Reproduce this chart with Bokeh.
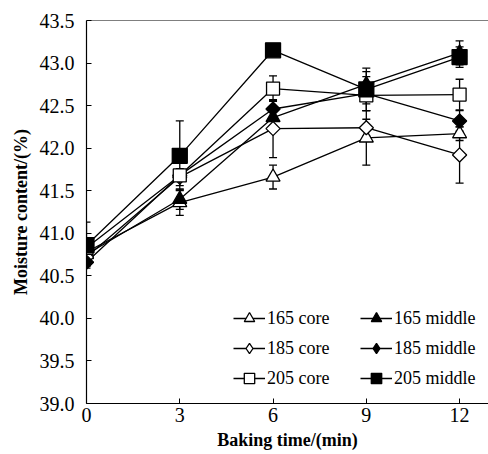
import math
from bokeh.plotting import figure
from bokeh.models import (ColumnDataSource, Whisker, TeeHead, Legend, LegendItem,
                          Span, FixedTicker, Range1d, CustomJSTickFormatter)
from bokeh.embed import file_html
from bokeh.resources import INLINE

times = [0, 3, 6, 9, 12]
series_names = ["165 core", "165 middle", "185 core", "185 middle", "205 core", "205 middle"]
c165 = [40.78, 41.36, 41.66, 42.12, 42.17]
m165 = [40.75, 41.40, 42.36, 42.75, 43.12]
c185 = [40.72, 41.66, 42.23, 42.24, 41.92]
m185 = [40.66, 41.68, 42.46, 42.64, 42.32]
c205 = [40.83, 41.68, 42.70, 42.62, 42.63]
m205 = [40.86, 41.91, 43.15, 42.69, 43.07]
e_c165 = [0.08, 0.15, 0.14, 0.32, 0.08]
e_m165 = [0.08, 0.12, 0.12, 0.15, 0.14]
e_c185 = [0.10, 0.10, 0.34, 0.10, 0.33]
e_m185 = [0.05, 0.05, 0.10, 0.20, 0.12]
e_c205 = [0.10, 0.05, 0.15, 0.10, 0.18]
e_m205 = [0.27, 0.41, 0.05, 0.25, 0.12]
x_ticks = [0, 3, 6, 9, 12]
y_ticks = [39.0, 39.5, 40.0, 40.5, 41.0, 41.5, 42.0, 42.5, 43.0, 43.5]

values = [c165, m165, c185, m185, c205, m205]
errors = [e_c165, e_m165, e_c185, e_m185, e_c205, e_m205]
markers = ["triangle", "triangle", "square", "square", "square", "square"]
legend_markers = ["triangle", "triangle", "diamond", "diamond", "square", "square"]
angles = [0, 0, math.pi / 4, math.pi / 4, 0, 0]
fills = ["white", "black", "white", "black", "white", "black"]
sizes = [14, 14, 10, 10, 13, 15]

FONT = "Liberation Serif"

p = figure(width=488, height=454, output_backend="svg", toolbar_location=None,
           x_range=Range1d(0, 12.93), y_range=Range1d(39.0, 43.5),
           min_border_left=86, min_border_top=20, min_border_bottom=51, min_border_right=0)
p.outline_line_color = None
p.xgrid.visible = False
p.ygrid.visible = False
p.background_fill_color = "white"

for ax in (p.xaxis[0], p.yaxis[0]):
    ax.major_tick_in = 5
    ax.major_tick_out = 0
    ax.minor_tick_line_color = None
    ax.axis_line_color = "black"
    ax.axis_line_width = 1.2
    ax.major_tick_line_color = "black"
    ax.major_label_text_font = FONT
    ax.major_label_text_font_size = "20px"
    ax.major_label_text_color = "black"
    ax.axis_label_text_font = FONT
    ax.axis_label_text_font_style = "bold"
    ax.axis_label_text_color = "black"
    ax.axis_label_text_font_size = "18px"

p.xaxis.ticker = FixedTicker(ticks=x_ticks)
p.yaxis.ticker = FixedTicker(ticks=y_ticks)
p.yaxis.formatter = CustomJSTickFormatter(code="return tick.toFixed(1);")
p.xaxis.major_label_standoff = 4
p.yaxis.major_label_standoff = 12
p.xaxis.axis_label = "Baking time/(min)"
p.yaxis.axis_label = "Moisture content/(%)"
p.xaxis.axis_label_standoff = 5
p.yaxis.axis_label_standoff = 6

p.add_layout(Span(location=43.5, dimension="width", line_color="black", line_width=1.2))

line_rs = []
for vals in values:
    src = ColumnDataSource(dict(x=times, y=vals))
    line_rs.append(p.line("x", "y", source=src, line_color="black", line_width=1.3))

scatter_rs = []
for vals, m, a, f, s in zip(values, markers, angles, fills, sizes):
    src = ColumnDataSource(dict(x=times, y=vals))
    scatter_rs.append(p.scatter("x", "y", source=src, marker=m, angle=a, size=s, fill_color=f,
                                line_color="black", line_width=1.3))

# legend-only marker renderers (hidden in the plot) so that diamonds appear in the key
legend_rs = []
for vals, m, f in zip(values, legend_markers, fills):
    src = ColumnDataSource(dict(x=times, y=vals))
    r = p.scatter("x", "y", source=src, marker=m, size=12, fill_color=f,
                  line_color="black", line_width=1.3)
    r.visible = False
    legend_rs.append(r)

for vals, errs in zip(values, errors):
    src = ColumnDataSource(dict(x=times, lo=[v - e for v, e in zip(vals, errs)],
                                hi=[v + e for v, e in zip(vals, errs)]))
    w = Whisker(base="x", lower="lo", upper="hi", source=src, line_color="black", line_width=1.3,
                upper_head=TeeHead(size=8, line_color="black", line_width=1.3),
                lower_head=TeeHead(size=8, line_color="black", line_width=1.3))
    p.add_layout(w)

def make_legend(idxs, x):
    items = [LegendItem(label=series_names[i], renderers=[line_rs[i], legend_rs[i]]) for i in idxs]
    lg = Legend(items=items, location=(x, 12), orientation="vertical",
                label_text_font=FONT, label_text_font_size="18px", label_text_color="black",
                glyph_width=32, glyph_height=26, label_height=26, spacing=4,
                label_standoff=2, padding=0, margin=0, click_policy="none",
                border_line_color=None, background_fill_alpha=0)
    p.add_layout(lg, "center")

make_legend([0, 2, 4], 147)
make_legend([1, 3, 5], 274)

open("out.html", "w").write(file_html(p, INLINE))
